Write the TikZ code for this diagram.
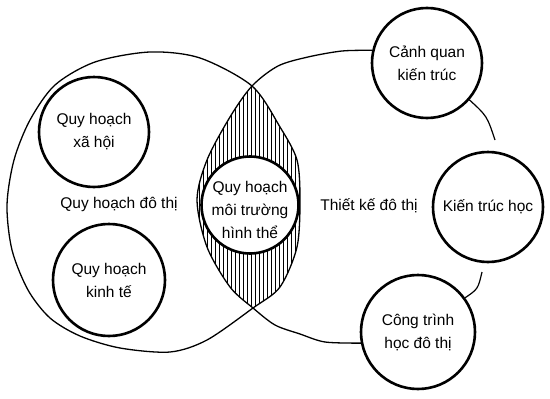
\documentclass[tikz,border=0pt]{standalone}
\usepackage{fontspec}
\setmainfont{Liberation Sans}
\begin{document}
\begin{tikzpicture}[x=1pt,y=-1pt,
  bigc/.style={circle, draw, line width=2.6pt, minimum size=#1, inner sep=0pt, align=center, font=\fontsize{15.5}{23}\selectfont},
  outline/.style={line width=1.3pt},
  conn/.style={line width=1.2pt},
  lbl/.style={font=\fontsize{15.5}{23}\selectfont, inner sep=0pt, align=center},
  hatchline/.style={line width=0.8pt}
]
\useasboundingbox[fill=white] (0,0) rectangle (550,399);

% outer circles
\node[bigc=110pt] (xh) at (94,132) {Quy hoạch\\xã hội};
\node[bigc=112pt] (kte) at (109,280) {Quy hoạch\\kinh tế};
\node[bigc=110pt] (ck) at (427,63) {Cảnh quan\\kiến trúc};
\node[bigc=110pt] (kt) at (488,207) {Kiến trúc học};
\node[bigc=114pt] (ct) at (418,332) {Công trình\\học đô thị};

% hatched lens
\begin{scope}
\clip plot[smooth cycle] coordinates {(150,52) (200,58) (252,86) (280,127) (297,160) (300,200) (297,247) (280,287) (253,308) (207,340) (170,352) (120,348) (80,336) (50,318) (28,290) (12,250) (7,205) (14,160) (30,120) (55,85) (95,62)};
\clip plot[smooth] coordinates {(ct.191) (325,342) (300,334) (275,325) (253,308) (230,287) (207,247) (197,200) (207,160) (230,117) (252,86) (278,66) (308,57) (342,51) (ck.167)} -- (550,50) -- (550,343) -- cycle;
\foreach \x in {195,199,...,303} \draw[hatchline] (\x,60) -- (\x,340);
\end{scope}

% big outlines
\draw[outline] plot[smooth cycle] coordinates {(150,52) (200,58) (252,86) (280,127) (297,160) (300,200) (297,247) (280,287) (253,308) (207,340) (170,352) (120,348) (80,336) (50,318) (28,290) (12,250) (7,205) (14,160) (30,120) (55,85) (95,62)};
\draw[outline] plot[smooth] coordinates {(ct.191) (325,342) (300,334) (275,325) (253,308) (230,287) (207,247) (197,200) (207,160) (230,117) (252,86) (278,66) (308,57) (342,51) (ck.167)};

% connecting arcs on the right
\coordinate (k1) at (495,140);
\coordinate (k2) at (482,272);
\draw[conn] (ck.-41) .. controls (487,116) .. (k1);
\draw[conn] (k2) .. controls (478,289) .. (ct.36);

% centre circle
\node[bigc=97pt, fill=white] (mt) at (250,205) {};
\node[lbl] (mtt) at (250,210) {Quy hoạch\\môi trường\\hình thể};

% labels
\node[lbl] (qhdt) at (119,204) {Quy hoạch đô thị};
\node[lbl] (tkdt) at (369,206) {Thiết kế đô thị};
\end{tikzpicture}
\end{document}
